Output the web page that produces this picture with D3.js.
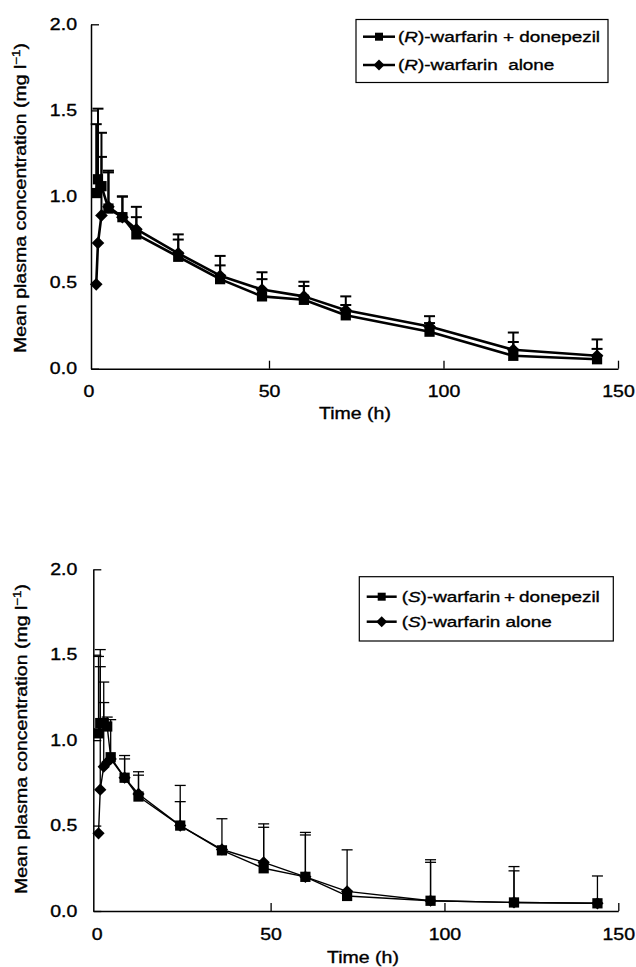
<!DOCTYPE html>
<html>
<head>
<meta charset="utf-8">
<script src="https://cdn.jsdelivr.net/npm/d3@7"></script>
<style>
  html, body { margin: 0; padding: 0; background: #fff; }
  svg { display: block; }
  text { font-family: "Liberation Sans", Arial, Helvetica, sans-serif; fill: #000; stroke: #000; stroke-width: 0.35px; }
</style>
</head>
<body>
<svg id="chart" width="636" height="967"></svg>
<script>
// ---------- data ----------
const xTicks = [0, 50, 100, 150];
const yTicks = [0, 0.5, 1.0, 1.5, 2.0];
const xTitle = "Time (h)";
const yTitle = "Mean plasma concentration (mg l";
const yTitleSup = "\u22121";

// (R)-warfarin panel
const timesR = [0.5, 1, 2, 4, 8, 12, 24, 36, 48, 60, 72, 96, 120, 144];
const rWithDonepezil   = [1.02, 1.10, 1.06, 0.93, 0.88, 0.78, 0.65, 0.52, 0.42, 0.40, 0.31, 0.215, 0.075, 0.055];
const rWithDonepezilSD = [0.40, 0.41, 0.31, 0.22, 0.12, 0.10, 0.10, 0.08, 0.10, 0.08, 0.06, 0.05, 0.08, 0.06];
const rAlone           = [0.49, 0.73, 0.89, 0.94, 0.88, 0.81, 0.67, 0.54, 0.46, 0.42, 0.34, 0.245, 0.11, 0.075];
const rAloneSD         = [null, null, 0.34, 0.20, 0.12, 0.13, 0.11, 0.115, 0.10, 0.085, 0.08, 0.06, 0.10, 0.095];
const legendR = ["(R)-warfarin + donepezil", "(R)-warfarin  alone"];

// (S)-warfarin panel
const timesS = [0.5, 1, 2, 3, 4, 8, 12, 24, 36, 48, 60, 72, 96, 120, 144];
const sWithDonepezil   = [1.04, 1.10, 1.10, 1.08, 0.90, 0.78, 0.67, 0.50, 0.355, 0.25, 0.20, 0.088, 0.06, 0.05, 0.045];
const sWithDonepezilSD = [0.45, 0.43, 0.24, 0.055, 0.22, 0.13, 0.125, 0.14, 0.185, 0.24, 0.245, 0.27, 0.225, 0.185, 0.16];
const sAlone           = [0.455, 0.71, 0.845, 0.87, 0.89, 0.78, 0.685, 0.50, 0.36, 0.285, 0.20, 0.115, 0.06, 0.05, 0.045];
const sAloneSD         = [null, 0.72, 0.375, null, null, 0.11, 0.13, 0.235, null, 0.225, 0.26, null, 0.24, 0.21, null];
const legendS = ["(S)-warfarin\u2009+\u2009donepezil", "(S)-warfarin alone"];

// ---------- drawing ----------
const svg = d3.select("#chart");
const STRETCH = 1.22;

function stretch(sel, origin) {
  sel.style("transform-box", "fill-box")
     .style("transform-origin", origin)
     .style("transform", `scaleX(${STRETCH})`);
}

function squareSym(size) { return d3.symbol().type(d3.symbolSquare).size(size)(); }

function panel(cfg) {
  const g = svg.append("g");
  const x = d3.scaleLinear().domain([-1, 150]).range([cfg.xLeft, cfg.xRight]);
  const y = d3.scaleLinear().domain([0, 2]).range([cfg.yBottom, cfg.yTop]);

  // y axis
  const ya = g.append("g").attr("transform", `translate(${cfg.xLeft},0)`)
    .call(d3.axisLeft(y).tickValues(yTicks).tickFormat(d3.format(".1f"))
      .tickSizeInner(-8).tickSizeOuter(0).tickPadding(cfg.yPad));
  ya.select(".domain").attr("stroke", "#000").attr("stroke-width", 1.5);
  ya.selectAll(".tick line").attr("stroke", "#000").attr("stroke-width", 1.3);
  ya.selectAll("text").attr("font-size", 16).attr("font-family", null);
  stretch(ya.selectAll("text"), "right center");

  // x axis
  const xa = g.append("g").attr("transform", `translate(0,${cfg.yBottom})`)
    .call(d3.axisBottom(x).tickValues(xTicks).tickFormat(d3.format("d"))
      .tickSizeInner(-8).tickSizeOuter(0).tickPadding(cfg.xPad));
  xa.select(".domain").attr("stroke", "#000").attr("stroke-width", 1.5);
  xa.selectAll(".tick line").attr("stroke", "#000").attr("stroke-width", 1.3)
    .filter(d => d === 0).remove();
  xa.selectAll("text").attr("font-size", 16).attr("font-family", null)
    .attr("dx", d => d === 0 ? cfg.zeroShift : 0);
  stretch(xa.selectAll("text"), "center");

  // axis titles
  g.append("text").attr("x", cfg.xTitleX).attr("y", cfg.xTitleY)
    .attr("text-anchor", "middle").attr("font-size", 16).text(xTitle)
    .call(s => stretch(s, "center"));
  const yt = g.append("text")
    .attr("transform", `translate(${cfg.yTitleX},${cfg.yTitleY}) rotate(-90) scale(${STRETCH},1)`)
    .attr("text-anchor", "middle").attr("font-size", 16);
  yt.append("tspan").text(yTitle);
  yt.append("tspan").attr("font-size", 11).attr("dy", -6).text(yTitleSup);
  yt.append("tspan").attr("dy", 6).text(")");

  // series
  cfg.series.forEach(s => {
    const pts = cfg.times.map((t, i) => ({ t, v: s.values[i], sd: s.sd[i] }));
    // error bars (upper only)
    const eb = g.append("g").attr("stroke", "#000").attr("stroke-width", cfg.errWidth);
    pts.filter(p => p.sd != null).forEach(p => {
      eb.append("line").attr("x1", x(p.t)).attr("x2", x(p.t))
        .attr("y1", y(p.v)).attr("y2", y(p.v + p.sd));
      eb.append("line").attr("x1", x(p.t) - 5.5).attr("x2", x(p.t) + 5.5)
        .attr("y1", y(p.v + p.sd)).attr("y2", y(p.v + p.sd));
    });
    g.append("path").datum(pts)
      .attr("fill", "none").attr("stroke", "#000").attr("stroke-width", cfg.lineWidth)
      .attr("stroke-linejoin", "round")
      .attr("d", d3.line().x(p => x(p.t)).y(p => y(p.v)));
    g.append("g").selectAll("path").data(pts).join("path")
      .attr("d", s.diamond ? squareSym(cfg.diamondSize) : squareSym(cfg.squareSize))
      .attr("transform", p => `translate(${x(p.t)},${y(p.v)})` + (s.diamond ? " rotate(45)" : ""))
      .attr("fill", "#000");
  });

  // legend
  const L = cfg.legend;
  const lg = g.append("g");
  lg.append("rect").attr("x", L.x).attr("y", L.y).attr("width", L.w).attr("height", L.h)
    .attr("fill", "#fff").attr("stroke", "#000").attr("stroke-width", 1.2);
  cfg.legendLabels.forEach((lab, i) => {
    const cy = L.rows[i];
    lg.append("line").attr("x1", L.lx0).attr("x2", L.lx1).attr("y1", cy).attr("y2", cy)
      .attr("stroke", "#000").attr("stroke-width", 2.5);
    const diamond = i === 1;
    lg.append("path").attr("d", squareSym(diamond ? 60 : 64))
      .attr("transform", `translate(${(L.lx0 + L.lx1) / 2},${cy})` + (diamond ? " rotate(45)" : ""))
      .attr("fill", "#000");
    const m = lab.match(/^\((\w)\)(.*)$/);
    const t = lg.append("text").attr("x", L.tx).attr("y", cy + 5.5)
      .attr("font-size", 15.5).style("white-space", "pre");
    t.append("tspan").text("(");
    t.append("tspan").attr("font-style", "italic").text(m[1]);
    t.append("tspan").text(")" + m[2]);
    stretch(t, "left center");
  });
}

panel({
  xLeft: 91, xRight: 618, yBottom: 368.7, yTop: 24.3,
  yPad: 14, xPad: 17, zeroShift: -6,
  xTitleX: 355, xTitleY: 419, yTitleX: 26, yTitleY: 198,
  times: timesR,
  series: [
    { values: rWithDonepezil, sd: rWithDonepezilSD, diamond: false },
    { values: rAlone, sd: rAloneSD, diamond: true }
  ],
  lineWidth: 2.6, errWidth: 2, squareSize: 105, diamondSize: 80,
  legend: { x: 356, y: 19.5, w: 252, h: 63, rows: [36.7, 65], lx0: 363, lx1: 395, tx: 398 },
  legendLabels: legendR
});

panel({
  xLeft: 93.3, xRight: 618.3, yBottom: 911, yTop: 569.3,
  yPad: 16, xPad: 18, zeroShift: 0,
  xTitleX: 363, xTitleY: 963, yTitleX: 27, yTitleY: 739,
  times: timesS,
  series: [
    { values: sWithDonepezil, sd: sWithDonepezilSD, diamond: false },
    { values: sAlone, sd: sAloneSD, diamond: true }
  ],
  lineWidth: 1.4, errWidth: 1.3, squareSize: 105, diamondSize: 75,
  legend: { x: 359.3, y: 576.7, w: 254, h: 64.3, rows: [596.7, 621.7], lx0: 366.7, lx1: 396.7, tx: 401.7 },
  legendLabels: legendS
});
</script>
</body>
</html>
